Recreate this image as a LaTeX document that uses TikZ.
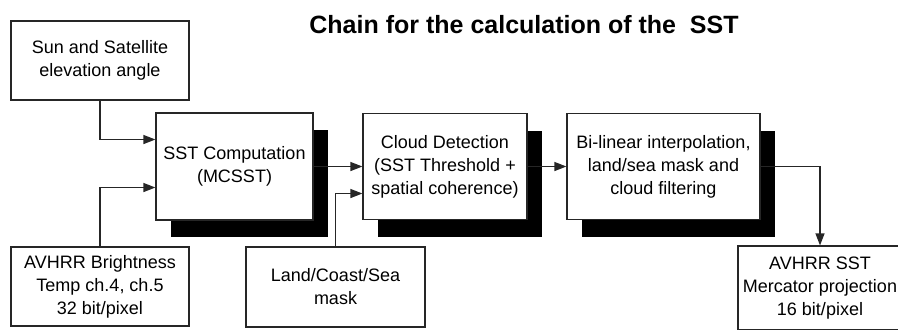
\documentclass[tikz,border=0pt]{standalone}
\usepackage{fontspec}
\setmainfont{Liberation Sans}
\usetikzlibrary{arrows.meta}
\usetikzlibrary{shadows}

\begin{document}
\begin{tikzpicture}[x=0.5pt,y=-0.5pt,
    box/.style={draw=black!85,line width=0.6pt,fill=white,align=center,inner sep=2pt,font=\fontsize{9}{11.5}\selectfont},
    blkshadow/.style={drop shadow={shadow xshift=7.5pt,shadow yshift=-8.5pt,opacity=1,fill=black}},
    link/.style={draw=black!85,line width=0.6pt,-{Triangle[length=6pt,width=4.5pt]}}]
    \useasboundingbox (0,0) rectangle (898,329);
    \clip (0,0) rectangle (898,329);
    % title
    \node[font=\bfseries\fontsize{12.5}{15}\selectfont] (title) at (524,25) {Chain for the calculation of the\ \ SST};
    % inputs
    \node[box,minimum width=89pt,minimum height=39.5pt] (sun) at (100,60.5) {Sun and Satellite\\elevation angle};
    \node[box,minimum width=89pt,minimum height=39.5pt] (avhrr) at (100,286.5) {AVHRR Brightness\\Temp ch.4, ch.5\\32 bit/pixel};
    \node[box,minimum width=89.5pt,minimum height=40pt] (land) at (335.5,287) {Land/Coast/Sea\\mask};
    % processing chain
    \node[box,blkshadow,minimum width=78.5pt,minimum height=53.5pt] (sst) at (234.5,166.5) {SST Computation\\(MCSST)};
    \node[box,blkshadow,minimum width=82pt,minimum height=53pt] (cloud) at (445,166.5) {Cloud Detection\\(SST Threshold +\\spatial coherence)};
    \node[box,blkshadow,minimum width=96.5pt,minimum height=53pt] (bi) at (663.5,166.5) {Bi-linear interpolation,\\land/sea mask and\\cloud filtering};
    % output
    \node[box,minimum width=82pt,minimum height=42pt] (out) at (820,288) {AVHRR SST\\Mercator projection\\16 bit/pixel};
    % connectors
    \draw[link] (sun.south) |- ([yshift=13.5pt]sst.west);
    \draw[link] (avhrr.north) |- ([yshift=-10.5pt]sst.west);
    \draw[link] (sst.east) -- (cloud.west);
    \draw[link] (land.north) |- ([yshift=-13.5pt]cloud.west);
    \draw[link] (cloud.east) -- (bi.west);
    \draw[link] (bi.east) -| (out.north);
\end{tikzpicture}
\end{document}
